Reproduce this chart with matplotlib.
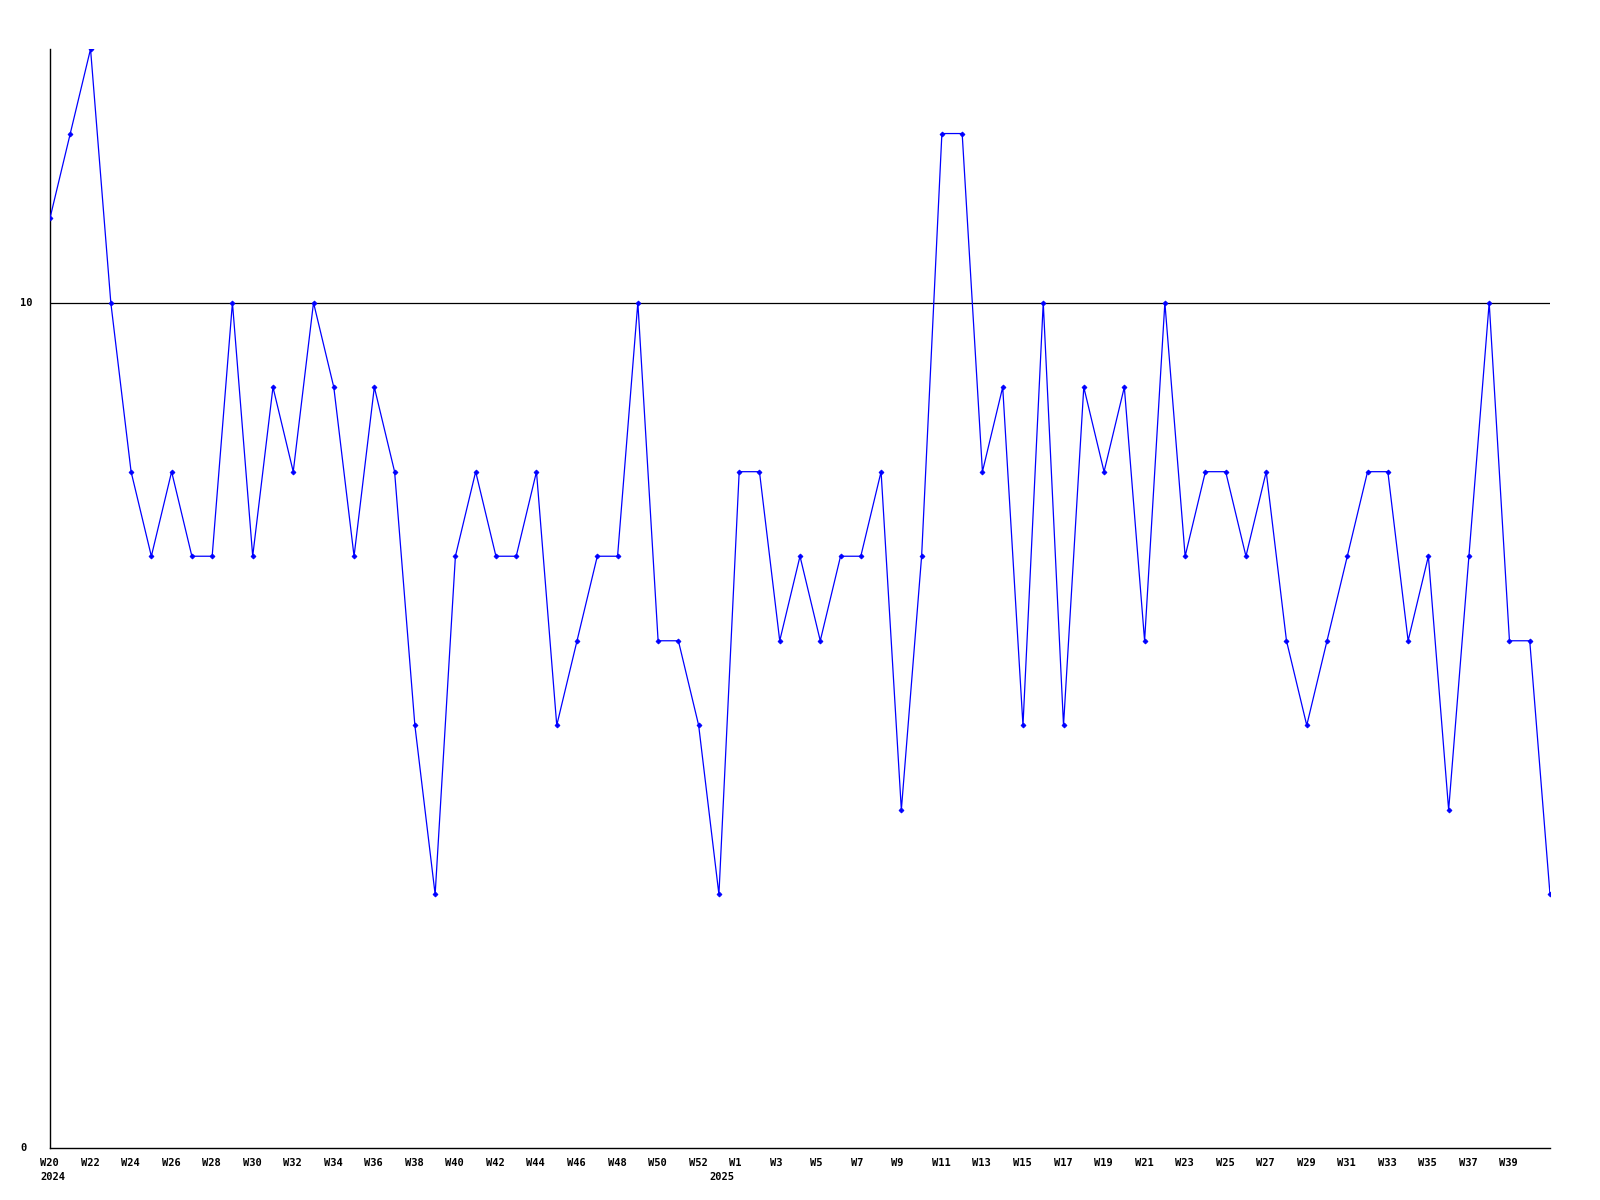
import matplotlib
matplotlib.use('Agg')
import matplotlib.pyplot as plt
import matplotlib.transforms as mtransforms

# semanas: W20..W53 de 2024, W1..W41 de 2025
semanas_2024 = list(range(20, 54))
semanas_2025 = list(range(1, 42))
semanas = ['W%d' % s for s in semanas_2024] + ['W%d' % s for s in semanas_2025]
# o rotulo do ano fica na primeira semana e na W53
anos = {0: '2024', len(semanas_2024) - 1: '2025'}

valores = [11, 12, 13, 10, 8, 7, 8, 7, 7, 10, 7, 9, 8, 10, 9, 7, 9, 8, 5, 3,
           7, 8, 7, 7, 8, 5, 6, 7, 7, 10, 6, 6, 5, 3,
           8, 8, 6, 7, 6, 7, 7, 8, 4, 7, 12, 12, 8, 9, 5, 10, 5, 9, 8, 9, 6,
           10, 7, 8, 8, 7, 8, 6, 5, 6, 7, 8, 8, 6, 7, 4, 7, 10, 6, 6, 3]

fonte = {'family': 'DejaVu Sans Mono', 'weight': 'bold', 'size': 7.5}

fig = plt.figure(figsize=(16, 12), dpi=100)
ax = fig.add_axes([50/1600, 1 - 1148/1200, 1500/1600, 1099/1200])

x = list(range(len(valores)))
ax.plot(x, valores, color='#0000ff', linewidth=0.9, marker='D', markersize=2.5,
        markeredgewidth=0.6, zorder=3)
ax.axhline(10, color='black', linewidth=0.9, zorder=2)

ax.set_xlim(0, len(valores) - 1)
ax.set_ylim(0, 13)
ax.spines['top'].set_visible(False)
ax.spines['right'].set_visible(False)
for s in ['left', 'bottom']:
    ax.spines[s].set_linewidth(1.0)
ax.set_xticks([])
ax.set_yticks([])

# rotulos do eixo y
trans_y = mtransforms.blended_transform_factory(fig.transFigure, ax.transData)
for v in [0, 10]:
    ax.text(20/1600, v, str(v), transform=trans_y, ha='left', va='center', fontdict=fonte)

# rotulos das semanas (a cada duas, reiniciando no ano novo; sem a ultima)
n24 = len(semanas_2024)
desloc = mtransforms.offset_copy(ax.transData, fig=fig, x=-10, y=0, units='dots')
trans_x = mtransforms.blended_transform_factory(desloc, fig.transFigure)
for i, nome in enumerate(semanas):
    mostra = (i % 2 == 0 and i < n24 - 1) or (i >= n24 and (i - n24) % 2 == 0)
    if mostra and i < len(semanas) - 1:
        ax.text(i, 1 - 1163/1200, nome, transform=trans_x, ha='left', va='center', fontdict=fonte)
for i, ano in anos.items():
    ax.text(i, 1 - 1177/1200, ano, transform=trans_x, ha='left', va='center', fontdict=fonte)

fig.savefig('out.png', dpi=100)
